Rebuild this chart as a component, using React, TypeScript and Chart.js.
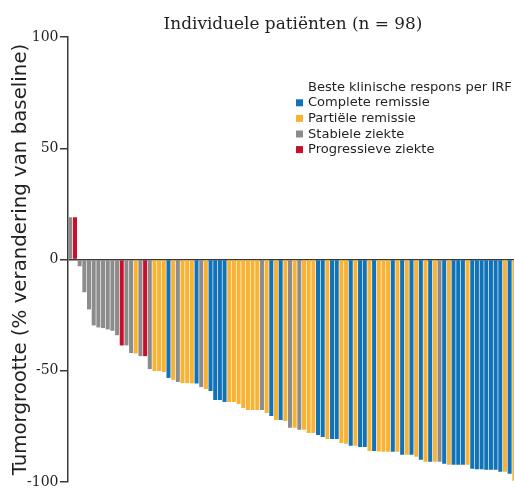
import React, { useEffect, useRef } from 'react';
import { Chart, registerables } from 'chart.js';

Chart.register(...registerables);

const TITLE = 'Individuele patiënten (n = 98)';
const Y_TITLE = 'Tumorgrootte (% verandering van baseline)';
const LEGEND_TITLE = 'Beste klinische respons per IRF';
const RESPONSE_CODES = ['C', 'P', 'S', 'D'];
const RESPONSE_LABELS = ['Complete remissie', 'Partiële remissie', 'Stabiele ziekte', 'Progressieve ziekte'];
const RESPONSE_COLORS = ['#1072b8', '#f9b334', '#8c8c8c', '#c8102e'];
const Y_MIN = -100;
const Y_MAX = 100;
const Y_STEP = 50;

// Best response per patient (sorted waterfall order). C = complete, P = partial, S = stable, D = progressive
const patientResponse = [
  'S', 'D', 'S', 'S', 'S', 'S', 'S', 'S', 'S', 'S',
  'S', 'D', 'S', 'S', 'P', 'S', 'D', 'S', 'P', 'P',
  'P', 'C', 'P', 'S', 'P', 'P', 'P', 'C', 'S', 'P',
  'C', 'C', 'C', 'C', 'P', 'P', 'P', 'P', 'P', 'P',
  'P', 'S', 'P', 'C', 'P', 'C', 'P', 'S', 'P', 'S',
  'P', 'P', 'P', 'C', 'C', 'P', 'C', 'C', 'P', 'P',
  'C', 'P', 'C', 'C', 'P', 'C', 'P', 'P', 'P', 'C',
  'P', 'C', 'P', 'C', 'P', 'C', 'P', 'C', 'P', 'S',
  'C', 'P', 'C', 'C', 'C', 'P', 'C', 'C', 'C', 'C',
  'C', 'C', 'C', 'P', 'C', 'P', 'C', 'C',
];

// % change in tumour size from baseline
const tumorChange = [
  19, 19, -3, -14.7, -22.4, -29.6, -30.5, -30.8, -31.4, -32,
  -34, -38.6, -38.6, -42, -42.2, -43.4, -43.4, -49.2, -50.1, -50.1,
  -50.5, -53.2, -54.1, -55, -55.5, -55.5, -55.6, -55.7, -57.3, -58.2,
  -59.1, -63.1, -63.1, -64, -64, -64, -64.9, -66.7, -67.6, -67.6,
  -67.6, -67.6, -68.9, -70.3, -72.1, -72.1, -72.5, -75.6, -75.6, -76.5,
  -76.5, -77.9, -77.9, -78.8, -79.7, -80.6, -80.6, -80.6, -82.4, -82.8,
  -83.7, -83.7, -84.2, -84.2, -86, -86, -86.2, -86.4, -86.4, -86.4,
  -86.4, -87.7, -87.7, -87.7, -88.6, -90, -90.9, -90.9, -90.9, -90.9,
  -91.8, -92.2, -92.2, -92.2, -92.2, -92.2, -94, -94.2, -94.2, -94.5,
  -94.5, -94.5, -95.4, -95.4, -96.3, -99.4, -100, -100,
];

const patientIds = tumorChange.map((_, i) => `P${i + 1}`);

function fitSize(text: string, family: string, width: number): number {
  const c = document.createElement('canvas').getContext('2d') as CanvasRenderingContext2D;
  c.font = `100px ${family}`;
  const w = c.measureText(text).width;
  return (100 * width) / w;
}

const SERIF = '"DejaVu Serif"';
const SANS = '"DejaVu Sans"';

export default function App() {
  const ref = useRef<HTMLCanvasElement | null>(null);

  useEffect(() => {
    const canvas = ref.current;
    if (!canvas) return;

    const titleSize = fitSize(TITLE, SERIF, 259);
    const yTitleSize = fitSize(Y_TITLE, SANS, 432);
    const legendSize = fitSize(LEGEND_TITLE, SANS, 204);

    const overlay = {
      id: 'overlay',
      afterDraw(chart: any) {
        const ctx = chart.ctx as CanvasRenderingContext2D;
        ctx.save();
        ctx.fillStyle = '#231f20';
        ctx.textAlign = 'center';
        ctx.textBaseline = 'alphabetic';
        ctx.font = `${titleSize}px ${SERIF}`;
        ctx.fillText(TITLE, 293, 29);

        ctx.textAlign = 'left';
        ctx.font = `${legendSize}px ${SANS}`;
        ctx.fillText(LEGEND_TITLE, 308, 90.5);
        RESPONSE_LABELS.forEach((lab, i) => {
          const base = 106.3 + i * 15.6;
          ctx.fillStyle = RESPONSE_COLORS[i];
          ctx.fillRect(296, base - 7, 7, 7);
          ctx.fillStyle = '#231f20';
          ctx.fillText(lab, 308, base);
        });
        ctx.restore();
      },
    };

    const chart = new Chart(canvas, {
      type: 'bar',
      data: {
        labels: patientIds,
        datasets: [
          {
            data: tumorChange,
            backgroundColor: patientResponse.map((r) => RESPONSE_COLORS[RESPONSE_CODES.indexOf(r)]),
            borderWidth: 0,
            barPercentage: 0.86,
            categoryPercentage: 1,
          },
        ],
      },
      options: {
        responsive: false,
        animation: false,
        devicePixelRatio: 1,
        layout: { padding: { top: 37, bottom: 9, left: 0, right: 0 } },
        plugins: {
          legend: { display: false },
          tooltip: { enabled: false },
          title: { display: false },
        },
        scales: {
          x: { display: false, offset: true },
          y: {
            min: Y_MIN,
            max: Y_MAX,
            z: 1,
            afterFit: (s: any) => {
              s.width = 68;
            },
            ticks: {
              stepSize: Y_STEP,
              font: { family: 'DejaVu Serif', size: 14 },
              color: '#231f20',
              padding: 1.5,
            },
            grid: {
              drawOnChartArea: true,
              color: (c: any) => (c.tick && c.tick.value === 0 ? '#3a3a3a' : 'rgba(0,0,0,0)'),
              tickColor: '#3a3a3a',
              tickLength: 8,
              lineWidth: 1.5,
            },
            border: { display: true, color: '#3a3a3a', width: 1.5 },
            title: {
              display: true,
              text: Y_TITLE,
              color: '#231f20',
              font: { family: 'DejaVu Sans', size: yTitleSize },
              padding: { top: 9, bottom: 0 },
            },
          },
        },
      },
      plugins: [overlay],
    } as any);

    return () => chart.destroy();
  }, []);

  return (
    <div
      style={{
        position: 'fixed',
        left: 0,
        top: 0,
        width: 514,
        height: 492,
        overflow: 'hidden',
        background: '#ffffff',
      }}
    >
      <canvas ref={ref} width={526} height={492} style={{ display: 'block', width: 526, height: 492 }} />
    </div>
  );
}
